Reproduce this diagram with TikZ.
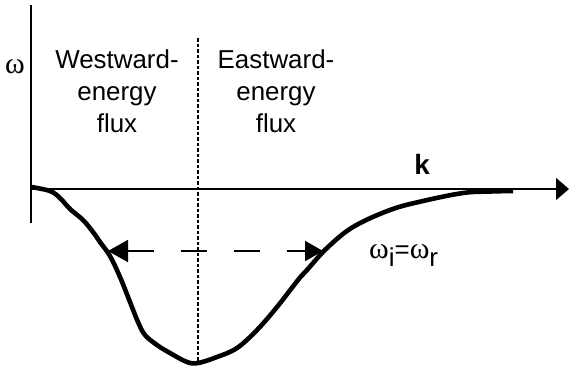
\documentclass[tikz,border=0pt]{standalone}
\usepackage{fontspec}
\setmainfont{Liberation Sans}
\newfontfamily\grk{Liberation Serif}
\usetikzlibrary{arrows.meta}
\begin{document}
\begin{tikzpicture}[x=1bp,y=-1bp,
  axis/.style={line width=1.4bp},
  curve/.style={line width=4.6bp,line join=round},
  divider/.style={line width=1.7bp,dash pattern=on 3.5bp off 2bp},
  flux/.style={line width=2bp,dash pattern=on 26bp off 27bp},
  label/.style={inner sep=0pt,font=\fontsize{26}{32}\selectfont,align=center}]
\useasboundingbox (0,0) rectangle (569,368);
\coordinate (o) at (31,189);
\coordinate (top) at (31,5);
\coordinate (bot) at (31,223);
\coordinate (kend) at (569,189);
\coordinate (dtop) at (198,38);
\coordinate (dbot) at (198,364);
\draw[axis] (top) -- (bot);
\draw[axis,-{Triangle[length=13bp,width=22bp]}] (o) -- (kend);
\draw[divider] (dtop) -- (dbot);
\draw[curve] plot[smooth,tension=0.6] coordinates {(31,187) (50,191) (60,198) (70,209) (83,220) (93,232) (100,242) (110,256) (120,277) (130,302) (138,322) (145,335) (157,345) (170,353) (187,362) (198,363) (217,357) (237,348) (257,330) (277,307) (298,280) (307,270) (327,248) (353,227) (390,210) (423,201) (463,193) (490,191.5) (513,191)};
\coordinate (lt) at (108,251);
\coordinate (rt) at (323,251);
\draw[flux,{Triangle[length=20bp,width=22bp]}-{Triangle[length=18bp,width=20bp]}] (lt) -- (rt);
\node[label,anchor=base] (west) at (117,132) {Westward-\\energy\\flux};
\node[label,anchor=base] (east) at (276,132) {Eastward-\\energy\\flux};
\node[inner sep=0pt,font=\grk\fontsize{30}{30}\selectfont] (w) at (15,67) {ω};
\node[inner sep=0pt,anchor=base,font=\bfseries\fontsize{28}{28}\selectfont] (k) at (422,174) {k};
\node[inner sep=0pt,anchor=base west,font=\fontsize{26}{26}\selectfont] (rel) at (369,258) {{\grk\fontsize{30}{30}\selectfont ω}\raisebox{-8bp}{i}={\grk\fontsize{30}{30}\selectfont ω}\raisebox{-8bp}{r}};
\end{tikzpicture}
\end{document}
